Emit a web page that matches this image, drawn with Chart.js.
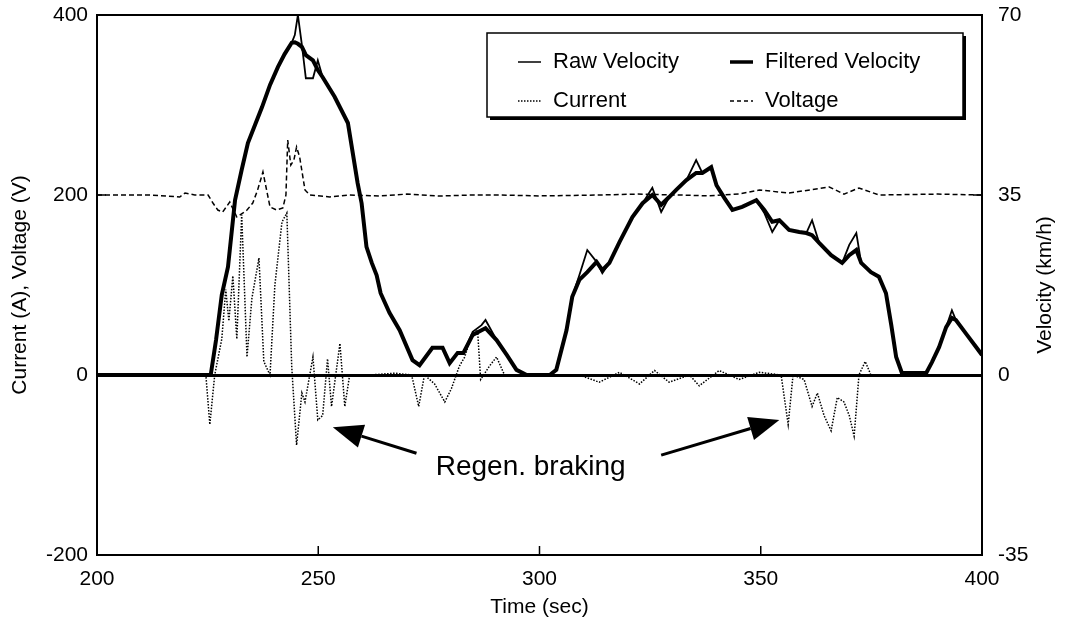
<!DOCTYPE html>
<html>
<head>
<meta charset="utf-8">
<script src="https://cdn.jsdelivr.net/npm/chart.js@4.4.0/dist/chart.umd.min.js"></script>
<style>
  html, body { margin: 0; padding: 0; background: #fff; }
  #wrap { width: 1070px; height: 632px; }
</style>
</head>
<body>
<div id="wrap"><canvas id="myChart" width="1070" height="632"></canvas></div>
<script>
// time axis (sec) for both velocity traces
var velTime = [200, 225.7, 226.9, 228.2, 229.6, 231.2, 232.7, 234.1, 235.7, 237.3,
  239.1, 240.9, 242.4, 244.0, 244.7, 245.4, 246.3, 247.2, 248.8, 249.9,
  251.0, 253.7, 256.7, 258.9, 259.8, 260.9, 262.1, 263.2, 264.1, 266.1,
  268.4, 271.3, 272.9, 275.8, 278.1, 279.7, 281.5, 282.8, 284.9, 286.9,
  287.8, 290.3, 292.6, 294.8, 297.1, 302.3, 303.8, 306.1, 307.4, 309.0,
  310.8, 312.9, 314.2, 315.8, 318.1, 321.0, 323.3, 325.5, 327.5, 329.3,
  330.9, 333.2, 335.4, 336.8, 338.8, 340.0, 341.8, 343.6, 345.8, 349.0,
  350.8, 352.6, 354.2, 356.4, 358.7, 360.3, 361.6, 363.2, 365.9, 368.4,
  370.0, 371.6, 372.7, 374.9, 376.7, 378.3, 379.5, 380.6, 381.9, 387.4,
  388.7, 390.3, 391.9, 393.2, 394.1, 396.6, 400];

// km/h
var rawVelocity = [0, 0, 6.8, 15.6, 21.0, 34.0, 39.9, 45.1, 48.6, 52.1,
  56.4, 59.9, 62.4, 64.6, 66.1, 70.0, 64.2, 57.7, 57.7, 61.2,
  57.9, 54.1, 49.0, 37.3, 33.4, 24.9, 21.8, 19.4, 15.9, 12.1,
  8.7, 2.9, 1.9, 5.3, 5.3, 2.3, 4.3, 4.3, 8.4, 9.7,
  10.7, 6.8, 3.9, 1.0, 0, 0, 1.0, 8.7, 15.2, 19.4,
  24.3, 22.0, 19.8, 21.8, 25.9, 30.7, 33.4, 36.4, 31.7, 34.6,
  36.0, 37.9, 41.8, 39.3, 40.4, 36.9, 34.4, 32.1, 32.7, 34.0,
  31.5, 27.8, 30.1, 28.2, 27.8, 27.6, 30.1, 25.7, 23.3, 21.8,
  25.3, 27.6, 21.8, 20.0, 19.1, 15.9, 9.7, 3.5, 0.4, 0.4,
  2.5, 5.4, 9.3, 12.6, 10.7, 7.8, 3.9];

var filteredVelocity = [0, 0, 6.8, 15.6, 21.0, 34.0, 39.9, 45.1, 48.6, 52.1,
  56.4, 59.9, 62.4, 64.6, 64.7, 64.4, 63.8, 62.2, 61.2, 59.3,
  57.9, 54.1, 49.0, 37.3, 33.4, 24.9, 21.8, 19.4, 15.9, 12.1,
  8.7, 2.9, 1.9, 5.3, 5.3, 2.3, 4.3, 4.3, 7.8, 8.7,
  9.1, 6.8, 3.9, 1.0, 0, 0, 1.0, 8.7, 15.2, 18.5,
  20.0, 22.0, 20.4, 21.8, 25.9, 30.7, 33.4, 35.0, 33.1, 34.6,
  36.0, 37.9, 39.3, 39.3, 40.4, 36.9, 34.4, 32.1, 32.7, 34.0,
  32.1, 29.8, 30.1, 28.2, 27.8, 27.6, 27.2, 25.7, 23.3, 21.8,
  23.3, 24.3, 21.8, 20.0, 19.1, 15.9, 9.7, 3.5, 0.4, 0.4,
  2.5, 5.4, 9.3, 11.1, 10.7, 7.8, 3.9];

// current (A)
var currentTime = [200, 224.6, 225.5, 226.6, 228.2, 229.1, 229.8, 230.7, 231.6, 232.7,
  233.9, 235.0, 236.6, 237.7, 239.1, 240.2, 241.8, 242.9, 244.0, 245.1,
  246.3, 247.0, 248.8, 249.9, 251.0, 252.1, 253.0, 254.9, 256.0, 257.1,
  261.6, 267.3, 271.1, 272.7, 274.0, 276.3, 278.6, 280.1, 281.9, 283.1,
  284.7, 286.0, 286.7, 288.7, 290.3, 292.1, 300, 309, 313.5, 318.1,
  322.6, 326.0, 329.3, 333.9, 336.1, 340.6, 345.1, 349.7, 354.6, 356.2,
  357.3, 359.8, 361.6, 362.8, 364.3, 365.9, 367.3, 368.8, 370.0, 371.1,
  372.2, 373.6, 374.9, 381.3, 388, 400];
var currentAmps = [0, 0, -55, 0, 40, 95, 60, 110, 40, 178,
  20, 85, 130, 15, 0, 100, 170, 180, 10, -78,
  -20, -30, 20, -50, -45, 18, -35, 35, -35, 0,
  0, 2, 0, -35, 0, -10, -30, -15, 10, 20,
  45, 50, -5, 10, 20, 0, 0, 0, -8, 3,
  -10, 5, -8, 0, -12, 5, -5, 3, 0, -55,
  0, -5, -35, -20, -45, -62, -25, -30, -45, -68,
  0, 15, 0, 0, 0, 0];

// voltage (V)
var voltageTime = [200, 212, 218.7, 219.9, 222.1, 225.1, 226.2, 227.3, 228.4, 230.0,
  231.6, 233.0, 233.9, 235.2, 236.3, 237.5, 238.1, 239.1, 240.6, 242.0,
  242.7, 243.1, 243.8, 244.5, 245.1, 245.8, 247.0, 248.1, 252.6, 257.1,
  263.9, 270, 277.4, 285, 291.0, 300, 313.5, 322, 331.6, 338,
  345.1, 349.7, 356.4, 365.5, 368.8, 372.2, 376.7, 390, 400];
var voltageVolts = [200, 200, 197.8, 202.2, 200, 200, 191.1, 183.3, 181.1, 192.2,
  175.6, 180, 183.3, 191.1, 205.6, 225.6, 211.1, 186.7, 183.3, 185.6,
  200, 261.1, 233.3, 238.9, 253.3, 242.2, 205.6, 200, 197.8, 200,
  198.9, 201, 198.9, 200, 200, 199, 200, 201, 200, 199,
  201.1, 205.6, 202.2, 208.9, 201, 207.8, 200, 201, 200];

var leftTicks = [-200, 0, 200, 400];
var rightTicks = [-35, 0, 35, 70];
var timeTicks = [200, 250, 300, 350, 400];

function pairs(xs, ys) {
  var out = [];
  for (var i = 0; i < xs.length; i++) {
    out.push({ x: xs[i], y: ys[i] });
  }
  return out;
}

var FONT = "'Liberation Sans', Arial, Helvetica, sans-serif";

// frame, inner ticks, legend box, right title and the arrows
var overlay = {
  id: 'overlay',
  afterDatasetsDraw: function (chart) {
    var ctx = chart.ctx;
    var a = chart.chartArea;
    var xs = chart.scales.x, yl = chart.scales.y, yr = chart.scales.y2;
    ctx.save();
    ctx.strokeStyle = '#000';
    ctx.fillStyle = '#000';
    ctx.lineWidth = 2;
    ctx.setLineDash([]);
    ctx.strokeRect(a.left, a.top, a.right - a.left, a.bottom - a.top);

    ctx.lineWidth = 1.5;
    ctx.beginPath();
    [250, 300, 350].forEach(function (t) {
      var px = xs.getPixelForValue(t);
      ctx.moveTo(px, a.bottom); ctx.lineTo(px, a.bottom - 9);
    });
    [200].forEach(function (v) {
      var py = yl.getPixelForValue(v);
      ctx.moveTo(a.left, py); ctx.lineTo(a.left + 9, py);
    });
    [35].forEach(function (v) {
      var py = yr.getPixelForValue(v);
      ctx.moveTo(a.right, py); ctx.lineTo(a.right - 9, py);
    });
    ctx.stroke();

    // right axis title, read bottom to top like the left one
    ctx.save();
    ctx.translate(1045, (a.top + a.bottom) / 2);
    ctx.rotate(-Math.PI / 2);
    ctx.font = '21px ' + FONT;
    ctx.textAlign = 'center';
    ctx.textBaseline = 'middle';
    ctx.fillText('Velocity (km/h)', 0, 0);
    ctx.restore();

    // legend
    var lx = a.left + 390, ly = a.top + 18, lw = 476, lh = 84;
    ctx.fillStyle = '#fff';
    ctx.fillRect(lx, ly, lw, lh);
    ctx.fillStyle = '#000';
    ctx.fillRect(lx + 3, ly + lh, lw, 3);
    ctx.fillRect(lx + lw, ly + 3, 3, lh);
    ctx.lineWidth = 1.5;
    ctx.strokeRect(lx, ly, lw, lh);

    var rows = [
      { text: 'Raw Velocity', col: 0, row: 0, w: 1.5, dash: [] },
      { text: 'Filtered Velocity', col: 1, row: 0, w: 3.5, dash: [] },
      { text: 'Current', col: 0, row: 1, w: 1.5, dash: [1.5, 1.5] },
      { text: 'Voltage', col: 1, row: 1, w: 1.5, dash: [4, 3] }
    ];
    ctx.font = '22px ' + FONT;
    ctx.textBaseline = 'middle';
    ctx.textAlign = 'left';
    rows.forEach(function (r) {
      var sx = lx + 31 + r.col * 212;
      var sy = ly + 29 + r.row * 39;
      ctx.beginPath();
      ctx.lineWidth = r.w;
      ctx.setLineDash(r.dash);
      ctx.moveTo(sx, sy); ctx.lineTo(sx + 23, sy);
      ctx.stroke();
      ctx.setLineDash([]);
      ctx.fillText(r.text, sx + 35, sy);
    });

    // Regen. braking arrows
    function arrow(x0, y0, x1, y1) {
      var ang = Math.atan2(y1 - y0, x1 - x0);
      var hl = 30, hw = 12;
      var bx = x1 - hl * Math.cos(ang), by = y1 - hl * Math.sin(ang);
      ctx.beginPath();
      ctx.lineWidth = 3;
      ctx.moveTo(x0, y0); ctx.lineTo(bx, by);
      ctx.stroke();
      ctx.beginPath();
      ctx.moveTo(x1, y1);
      ctx.lineTo(bx + hw * Math.sin(ang), by - hw * Math.cos(ang));
      ctx.lineTo(bx - hw * Math.sin(ang), by + hw * Math.cos(ang));
      ctx.closePath();
      ctx.fill();
    }
    arrow(xs.getPixelForValue(272.2), yl.getPixelForValue(-87), xs.getPixelForValue(253.3), yl.getPixelForValue(-58));
    arrow(xs.getPixelForValue(327.5), yl.getPixelForValue(-89), xs.getPixelForValue(354.2), yl.getPixelForValue(-50));
    ctx.font = '28px ' + FONT;
    ctx.textAlign = 'center';
    ctx.fillText('Regen. braking', xs.getPixelForValue(298), yl.getPixelForValue(-102));
    ctx.restore();
  }
};

function noVPad(s) {
  s.paddingTop = 0;
  s.paddingBottom = 0;
}

var ctx = document.getElementById('myChart');

var data = {
  datasets: [
    {
      label: 'Raw Velocity',
      data: pairs(velTime, rawVelocity),
      yAxisID: 'y2',
      borderColor: '#000',
      borderWidth: 1.8,
      pointRadius: 0,
      tension: 0,
      fill: false
    },
    {
      label: 'Filtered Velocity',
      data: pairs(velTime, filteredVelocity),
      yAxisID: 'y2',
      borderColor: '#000',
      borderWidth: 4,
      pointRadius: 0,
      tension: 0,
      fill: false
    },
    {
      label: 'Current',
      data: pairs(currentTime, currentAmps),
      yAxisID: 'y',
      borderColor: '#000',
      borderWidth: 1.5,
      borderDash: [1.5, 1.5],
      pointRadius: 0,
      tension: 0,
      fill: false
    },
    {
      label: 'Voltage',
      data: pairs(voltageTime, voltageVolts),
      yAxisID: 'y',
      borderColor: '#000',
      borderWidth: 1.5,
      borderDash: [5, 3],
      pointRadius: 0,
      tension: 0,
      fill: false
    }
  ]
};

var options = {
  responsive: false,
  animation: false,
  layout: { padding: { top: 15, left: 0, right: 0, bottom: 0 } },
  plugins: { legend: { display: false }, tooltip: { enabled: false } },
  scales: {
    x: {
      type: 'linear',
      min: 200, max: 400,
      afterBuildTicks: function (s) { s.ticks = timeTicks.map(function (v) { return { value: v }; }); },
      afterFit: function (s) { s.height = 77; s.paddingLeft = 0; s.paddingRight = 0; },
      grid: { display: false, drawTicks: false },
      border: { display: false },
      ticks: { color: '#000', padding: 12, font: { family: FONT, size: 21 } },
      title: { display: true, text: 'Time (sec)', color: '#000', padding: { top: 0, bottom: 12 }, font: { family: FONT, size: 21 } }
    },
    y: {
      position: 'left',
      min: -200, max: 400,
      afterBuildTicks: function (s) { s.ticks = leftTicks.map(function (v) { return { value: v }; }); },
      afterFit: function (s) { s.width = 97; noVPad(s); },
      grid: {
        drawTicks: false,
        color: function (c) { return c.tick && c.tick.value === 0 ? '#000' : 'rgba(0,0,0,0)'; },
        lineWidth: function (c) { return c.tick && c.tick.value === 0 ? 3 : 0; }
      },
      border: { display: false },
      ticks: { color: '#000', padding: 9, font: { family: FONT, size: 21 } },
      title: { display: true, text: 'Current (A), Voltage (V)', color: '#000', padding: { top: 8, bottom: 2 }, font: { family: FONT, size: 21 } }
    },
    y2: {
      position: 'right',
      min: -35, max: 70,
      afterBuildTicks: function (s) { s.ticks = rightTicks.map(function (v) { return { value: v }; }); },
      afterFit: function (s) { s.width = 88; noVPad(s); },
      grid: { display: false, drawTicks: false },
      border: { display: false },
      ticks: { color: '#000', padding: 16, font: { family: FONT, size: 21 } },
      title: { display: false }
    }
  }
};

var chart = new Chart(ctx, {
  type: 'line',
  data: data,
  options: options,
  plugins: [overlay]
});
</script>
</body>
</html>
